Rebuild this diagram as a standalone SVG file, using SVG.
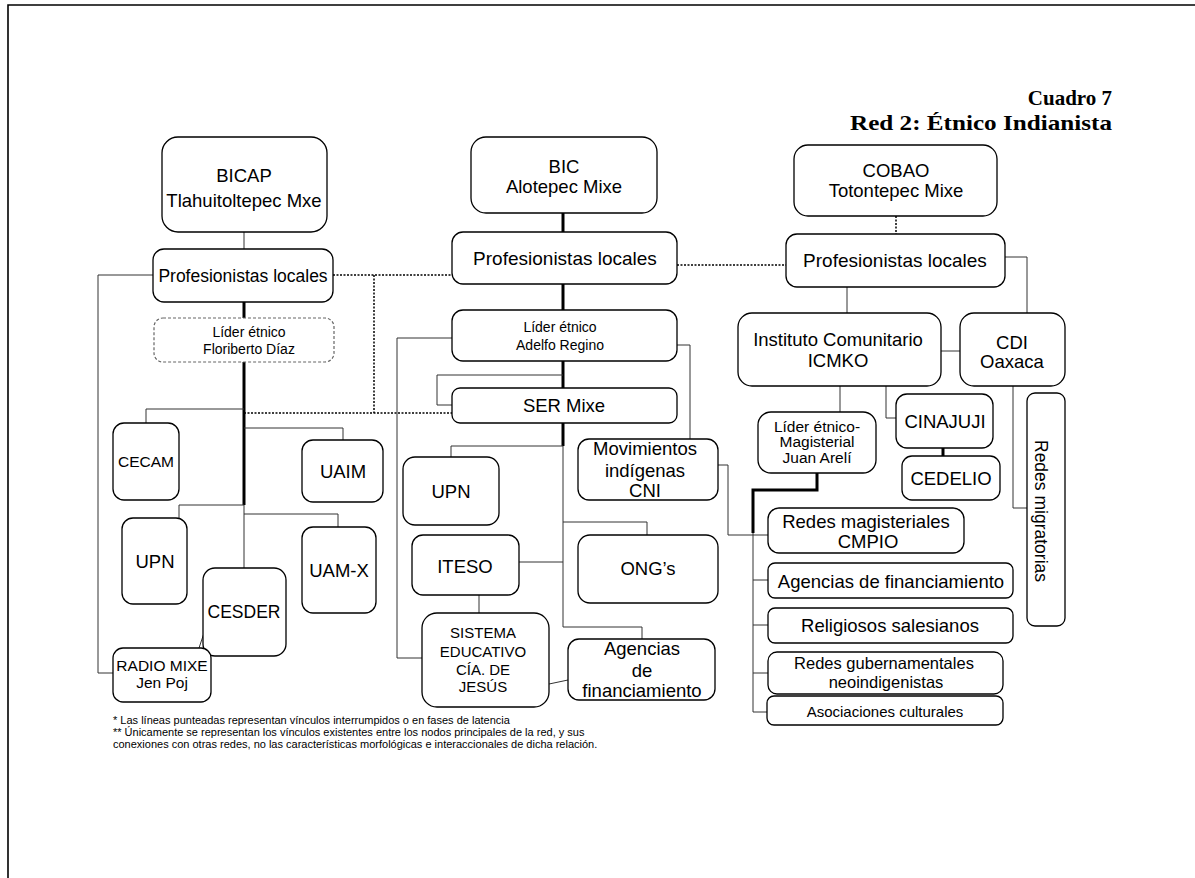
<svg xmlns="http://www.w3.org/2000/svg" width="1195" height="878" viewBox="0 0 1195 878">
<style>
.b{fill:#fff;stroke:#000;stroke-width:1.3}
.d{fill:#fff;stroke:#666;stroke-width:1.2;stroke-dasharray:3,2}
.t{font-family:"Liberation Sans",Arial,sans-serif;fill:#000;text-anchor:middle}
.c{fill:none;stroke:#333;stroke-width:1}
.k{fill:none;stroke:#000;stroke-width:3}
.p{fill:none;stroke:#000;stroke-width:1.5;stroke-dasharray:2,1.5}
.n{font-family:"Liberation Sans",Arial,sans-serif;font-size:11px;fill:#000}
.h{font-family:"Liberation Serif","Times New Roman",serif;font-weight:bold;font-size:21px;text-anchor:end;fill:#000}
</style>
<rect width="1195" height="878" fill="#fff"/>
<path d="M8,878 V5 H1195" fill="none" stroke="#000" stroke-width="1.6"/>
<text class="h" x="1112" y="105">Cuadro 7</text>
<text class="h" x="1112" y="130" textLength="262" lengthAdjust="spacingAndGlyphs">Red 2: Étnico Indianista</text>

<g id="connectors">
<path class="c" d="M244,232 V249"/>
<path class="c" d="M153,275 H98 V673 H113"/>
<path class="k" d="M244,302 V318"/>
<path class="k" d="M244,362 V505" stroke-width="2.5"/>
<path class="c" d="M244,505 V568"/>
<path class="c" d="M244,409 H146 V423"/>
<path class="c" d="M244,428 H343 V440"/>
<path class="c" d="M244,505 H179 V518"/>
<path class="c" d="M244,514 H338 V527"/>
<path class="c" d="M204,633 L199,648"/>
<path class="p" d="M333,275 H452"/>
<path class="p" d="M374,275 V413"/>
<path class="p" d="M244,413 H452"/>
<path class="p" d="M677,265 H786"/>
<path class="p" d="M896,216 V234"/>
<path class="k" d="M563,213 V232"/>
<path class="k" d="M563,284 V310"/>
<path class="k" d="M563,361 V388"/>
<path class="k" d="M563,423 V446"/>
<path class="c" d="M563,375 H437 V405 H452"/>
<path class="c" d="M452,338 H397 V658 H422"/>
<path class="c" d="M677,345 H690 V439"/>
<path class="c" d="M563,446 H451 V457"/>
<path class="c" d="M563,446 V627 H642 V639"/>
<path class="c" d="M563,522 H647 V535"/>
<path class="c" d="M519,562 H563"/>
<path class="c" d="M479,595 V613"/>
<path class="c" d="M549,684 L568,680"/>
<path class="c" d="M718,465 H728 V535 H753"/>
<path class="c" d="M1005,257 H1027 V313"/>
<path class="c" d="M847,287 V313"/>
<path class="c" d="M941,351 H960"/>
<path class="c" d="M840,386 V412"/>
<path class="c" d="M886,386 V418 H896"/>
<path class="c" d="M1013,386 V508 H1027"/>
<path class="k" d="M943,448 V456"/>
<path class="k" d="M817,473 V490 H753 V533"/>
<path class="c" d="M753,533 V712 H767"/>
<path class="c" d="M753,535 H768"/>
<path class="c" d="M753,580 H768"/>
<path class="c" d="M753,625 H768"/>
<path class="c" d="M753,673 H768"/>
</g>

<g id="bicap"><rect class="b" x="162" y="137" width="165" height="95" rx="16"/>
<text class="t" x="244" y="182" font-size="18.5">BICAP</text><text class="t" x="244" y="207" font-size="18.5">Tlahuitoltepec Mxe</text></g>
<g id="prof-left"><rect class="b" x="153" y="249" width="180" height="53" rx="11"/>
<text class="t" x="243" y="282" font-size="17.5">Profesionistas locales</text></g>
<g id="floriberto"><rect class="d" x="154" y="318" width="180" height="44" rx="9"/>
<text class="t" x="249" y="337" font-size="14">Líder étnico</text><text class="t" x="249" y="354" font-size="14">Floriberto Díaz</text></g>
<g id="cecam"><rect class="b" x="113" y="423" width="66" height="77" rx="11"/>
<text class="t" x="146" y="467" font-size="15.5">CECAM</text></g>
<g id="uaim"><rect class="b" x="302" y="440" width="81" height="62" rx="11"/>
<text class="t" x="343" y="478" font-size="18.5">UAIM</text></g>
<g id="upn-left"><rect class="b" x="122" y="518" width="65" height="86" rx="11"/>
<text class="t" x="155" y="568" font-size="18.5">UPN</text></g>
<g id="uamx"><rect class="b" x="302" y="527" width="74" height="86" rx="11"/>
<text class="t" x="339" y="577" font-size="18.5">UAM-X</text></g>
<g id="cesder"><rect class="b" x="203" y="568" width="83" height="88" rx="12"/>
<text class="t" x="244" y="618" font-size="17.5">CESDER</text></g>
<g id="radio"><rect class="b" x="113" y="648" width="98" height="54" rx="10"/>
<text class="t" x="162" y="671" font-size="15.5">RADIO MIXE</text><text class="t" x="162" y="688" font-size="15.5">Jen Poj</text></g>

<g id="bic"><rect class="b" x="471" y="137" width="186" height="76" rx="15"/>
<text class="t" x="564" y="173" font-size="18.5">BIC</text><text class="t" x="564" y="193" font-size="18.5">Alotepec Mixe</text></g>
<g id="prof-center"><rect class="b" x="452" y="232" width="225" height="52" rx="11"/>
<text class="t" x="565" y="265" font-size="19">Profesionistas locales</text></g>
<g id="adelfo"><rect class="b" x="452" y="310" width="225" height="51" rx="11"/>
<text class="t" x="560" y="332" font-size="14">Líder étnico</text><text class="t" x="560" y="350" font-size="14">Adelfo Regino</text></g>
<g id="sermixe"><rect class="b" x="452" y="388" width="225" height="35" rx="8"/>
<text class="t" x="564" y="412" font-size="18.5">SER Mixe</text></g>
<g id="upn-center"><rect class="b" x="403" y="457" width="96" height="68" rx="12"/>
<text class="t" x="451" y="498" font-size="18.5">UPN</text></g>
<g id="movimientos"><rect class="b" x="578" y="439" width="140" height="61" rx="11"/>
<text class="t" x="645" y="455" font-size="18.5">Movimientos</text><text class="t" x="645" y="477" font-size="18.5">indígenas</text><text class="t" x="645" y="497" font-size="18.5">CNI</text></g>
<g id="iteso"><rect class="b" x="412" y="535" width="107" height="60" rx="11"/>
<text class="t" x="465" y="573" font-size="18.5">ITESO</text></g>
<g id="ongs"><rect class="b" x="578" y="535" width="140" height="68" rx="12"/>
<text class="t" x="648" y="575" font-size="18.5">ONG’s</text></g>
<g id="sistema"><rect class="b" x="422" y="613" width="127" height="94" rx="15"/>
<text class="t" x="483" y="638" font-size="15">SISTEMA</text><text class="t" x="483" y="657" font-size="15">EDUCATIVO</text><text class="t" x="483" y="675" font-size="15">CÍA. DE</text><text class="t" x="483" y="692" font-size="15">JESÚS</text></g>
<g id="agencias-center"><rect class="b" x="568" y="639" width="147" height="61" rx="11"/>
<text class="t" x="642" y="655" font-size="18.5">Agencias</text><text class="t" x="642" y="677" font-size="18.5">de</text><text class="t" x="642" y="697" font-size="18.5">financiamiento</text></g>

<g id="cobao"><rect class="b" x="794" y="145" width="203" height="71" rx="14"/>
<text class="t" x="896" y="177" font-size="18.5">COBAO</text><text class="t" x="896" y="197" font-size="18.5">Totontepec Mixe</text></g>
<g id="prof-right"><rect class="b" x="786" y="234" width="219" height="53" rx="11"/>
<text class="t" x="895" y="267" font-size="19">Profesionistas locales</text></g>
<g id="icmko"><rect class="b" x="738" y="313" width="203" height="73" rx="14"/>
<text class="t" x="838" y="346" font-size="18.5">Instituto Comunitario</text><text class="t" x="838" y="367" font-size="18.5">ICMKO</text></g>
<g id="cdi"><rect class="b" x="960" y="313" width="105" height="73" rx="14"/>
<text class="t" x="1012" y="349" font-size="18.5">CDI</text><text class="t" x="1012" y="368" font-size="18.5">Oaxaca</text></g>
<g id="areli"><rect class="b" x="758" y="412" width="118" height="61" rx="13"/>
<text class="t" x="817" y="432" font-size="15.5">Líder étnico-</text><text class="t" x="817" y="447" font-size="15.5">Magisterial</text><text class="t" x="817" y="463" font-size="15.5">Juan Arelí</text></g>
<g id="cinajuji"><rect class="b" x="896" y="394" width="97" height="54" rx="11"/>
<text class="t" x="945" y="428" font-size="18.5">CINAJUJI</text></g>
<g id="cedelio"><rect class="b" x="902" y="456" width="98" height="44" rx="10"/>
<text class="t" x="951" y="485" font-size="18.5">CEDELIO</text></g>
<g id="migratorias"><rect class="b" x="1027" y="393" width="38" height="233" rx="8"/>
<text class="t" transform="translate(1035,511) rotate(90)" x="0" y="0" font-size="17.5">Redes migratorias</text></g>
<g id="cmpio"><rect class="b" x="768" y="508" width="196" height="45" rx="11"/>
<text class="t" x="866" y="528" font-size="18.5">Redes magisteriales</text><text class="t" x="868" y="548" font-size="18.5">CMPIO</text></g>
<g id="agencias-right"><rect class="b" x="768" y="563" width="245" height="35" rx="7"/>
<text class="t" x="891" y="588" font-size="18.5">Agencias de financiamiento</text></g>
<g id="salesianos"><rect class="b" x="768" y="608" width="245" height="35" rx="7"/>
<text class="t" x="890" y="632" font-size="18.5">Religiosos salesianos</text></g>
<g id="gubernamentales"><rect class="b" x="768" y="652" width="235" height="42" rx="9"/>
<text class="t" x="884" y="669" font-size="16.5">Redes gubernamentales</text><text class="t" x="886" y="688" font-size="16.5">neoindigenistas</text></g>
<g id="asociaciones"><rect class="b" x="767" y="696" width="236" height="29" rx="7"/>
<text class="t" x="885" y="717" font-size="15">Asociaciones culturales</text></g>

<text class="n" x="113" y="724">* Las líneas punteadas representan vínculos interrumpidos o en fases de latencia</text>
<text class="n" x="113" y="736">** Únicamente se representan los vínculos existentes entre los nodos principales de la red, y sus</text>
<text class="n" x="113" y="748">conexiones con otras redes, no las características morfológicas e interaccionales de dicha relación.</text>
</svg>
